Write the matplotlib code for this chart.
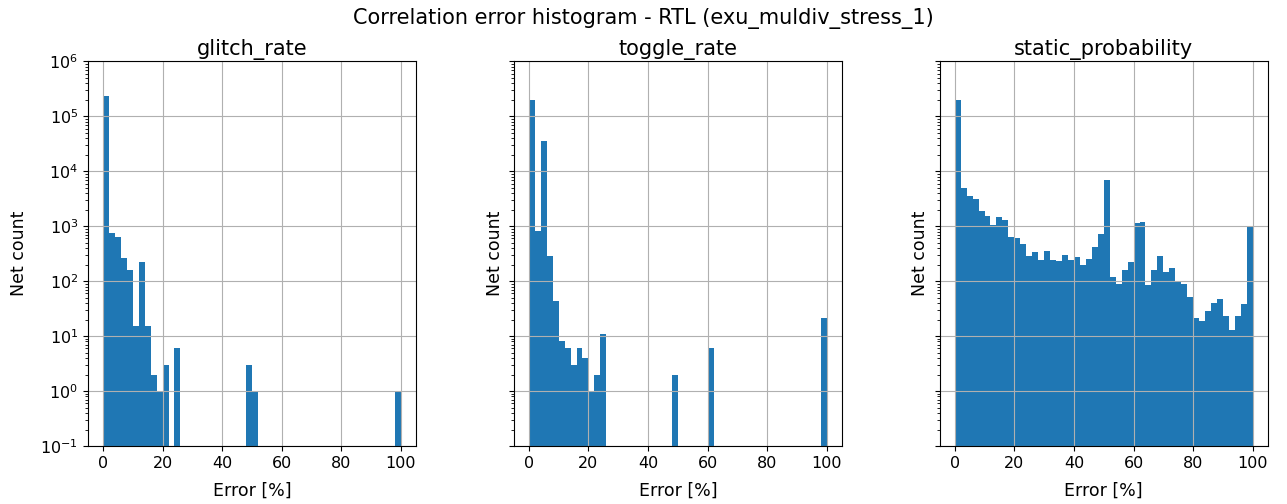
import numpy as np
import matplotlib
matplotlib.use("Agg")
import matplotlib.pyplot as plt

# Histogram bins: 50 bins of 2 % width between 0 and 100 %
bin_edges = np.linspace(0, 100, 51)

panel_titles = ["glitch_rate", "toggle_rate", "static_probability"]

glitch_rate_counts = [
    231000, 750, 652, 267, 161, 15, 226, 15, 2, 1,
    3, 0, 6, 0, 0, 0, 0, 0, 0, 0,
    0, 0, 0, 0, 3, 1, 0, 0, 0, 0,
    0, 0, 0, 0, 0, 0, 0, 0, 0, 0,
    0, 0, 0, 0, 0, 0, 0, 0, 0, 1,
]

toggle_rate_counts = [
    201000, 815, 35100, 294, 44, 8, 6, 3, 6, 4,
    1, 2, 11, 0, 0, 0, 0, 0, 0, 0,
    0, 0, 0, 0, 2, 0, 0, 0, 0, 0,
    6, 0, 0, 0, 0, 0, 0, 0, 0, 0,
    0, 0, 0, 0, 0, 0, 0, 0, 0, 21,
]

static_probability_counts = [
    201000, 4890, 3490, 3080, 1890, 1530, 1060, 1490, 1280, 652,
    600, 486, 294, 338, 242, 362, 248, 229, 298, 245,
    278, 199, 252, 428, 730, 7010, 117, 90, 163, 222,
    1160, 1210, 85, 157, 282, 150, 175, 103, 90, 51,
    21, 19, 29, 41, 48, 23, 13, 23, 39, 990,
]

series = [glitch_rate_counts, toggle_rate_counts, static_probability_counts]

fig, axes = plt.subplots(1, 3, figsize=(12.87, 5.04), dpi=100, sharey=True)
fig.subplots_adjust(left=0.0684, right=0.985, top=0.878, bottom=0.115, wspace=0.299)

centers = 0.5 * (bin_edges[:-1] + bin_edges[1:])
for i, (ax, title, counts) in enumerate(zip(axes, panel_titles, series)):
    ax.hist(centers, bins=bin_edges, weights=counts, color="#1f77b4", log=True)
    ax.set_title(title, fontsize=15, pad=5)
    ax.set_xlabel("Error [%]", fontsize=12.5, labelpad=8)
    ax.set_ylabel("Net count", fontsize=12.5, labelpad=9 if i == 0 else 4)
    ax.grid(True)
    ax.tick_params(labelsize=11.5)
    ax.set_xticks([0, 20, 40, 60, 80, 100])

axes[0].set_ylim(1e-1, 1e6)
fig.suptitle("Correlation error histogram - RTL (exu_muldiv_stress_1)", fontsize=15, y=0.985)

fig.savefig("out.png", dpi=100)
